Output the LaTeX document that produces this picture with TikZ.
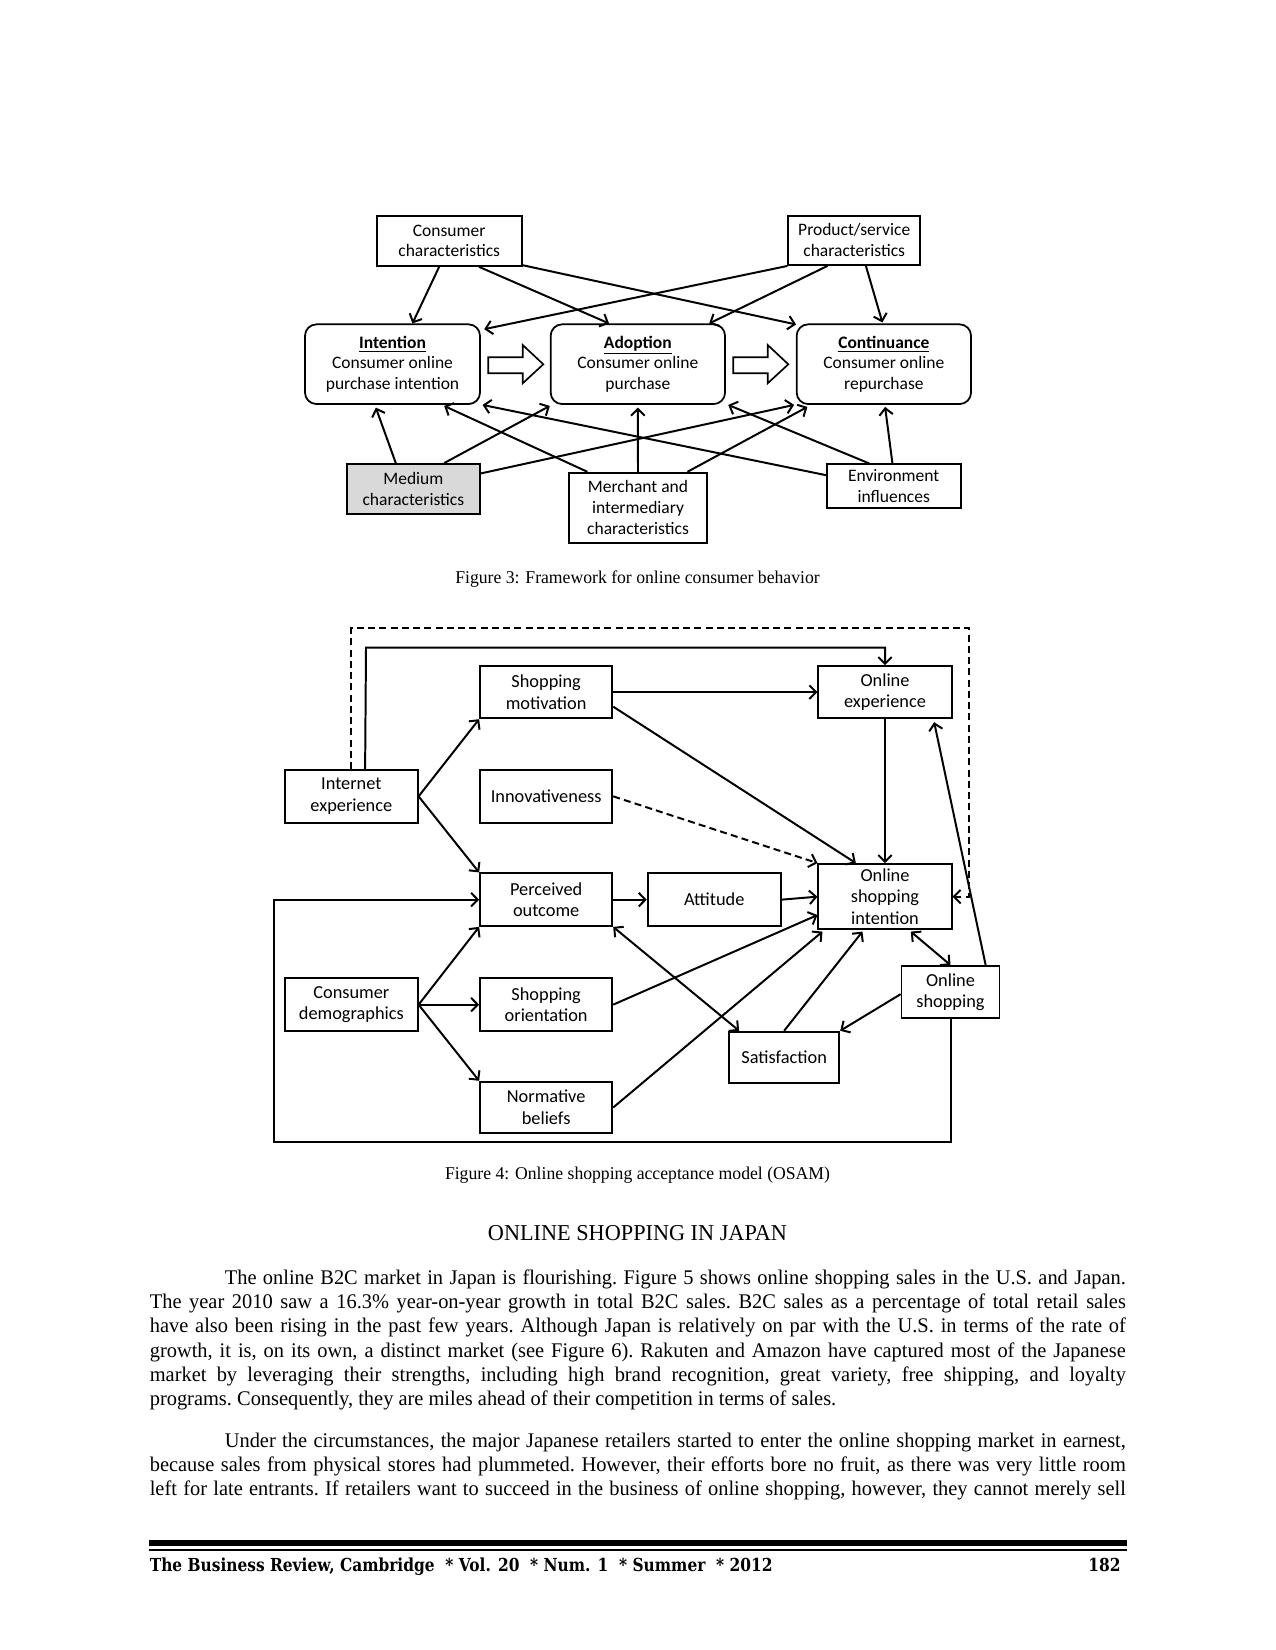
\documentclass[tikz,border=0pt]{standalone}
\usepackage{fontspec}
\setmainfont{Liberation Serif}
\newfontfamily\bodyfont{Liberation Serif}[FakeStretch=0.98]
\newfontfamily\calibri{Carlito}
\newfontfamily\footfont{DejaVu Serif}[FakeStretch=0.86]
\usetikzlibrary{arrows.meta,calc}
\newcommand\bodysetup{\bodyfont\fontsize{10}{11.6}\selectfont\frenchspacing\tolerance=9999\relax\hyphenpenalty=10000\relax\emergencystretch=10pt\relax}
\newcommand\footsetup{\footfont\bfseries\fontsize{8.6}{10}\selectfont}
\tikzset{
  box3/.style={draw, line width=0.85pt, font=\calibri\fontsize{8.4}{10}\selectfont, align=center, inner sep=0pt},
  rbox/.style={box3, rounded corners=5.5pt},
  box4/.style={draw, line width=0.85pt, font=\calibri\fontsize{8.8}{10.5}\selectfont, align=center, inner sep=0pt},
  arr/.style={line width=0.95pt, -{Straight Barb[length=3.2pt,width=6.5pt]}},
  darr/.style={line width=0.95pt, {Straight Barb[length=3.2pt,width=6.5pt]}-{Straight Barb[length=3.2pt,width=6.5pt]}},
  dsh/.style={dash pattern=on 3.4pt off 2pt},
  hollow/.style={draw, line width=0.8pt, fill=white},
  bodytext/.style={anchor=base west, text width=468.5pt, align=justify, inner sep=0pt, font=\bodysetup},
  captxt/.style={anchor=base, inner sep=0pt, font=\bodyfont\fontsize{8.65}{11}\selectfont},
}
\begin{document}
\begin{tikzpicture}[x=0.48pt,y=-0.48pt]
\useasboundingbox[fill=white] (0,0) rectangle (1275,1650);

% ---------------- Figure 3 ----------------
\node[box3, minimum width=69.6pt, minimum height=24.15pt] (cc) at (449.2,240.85) {Consumer\\characteristics};
\node[box3, minimum width=63.2pt, minimum height=23.7pt] (ps) at (854.2,240.35) {Product/service\\characteristics};
\node[rbox, minimum width=84pt, minimum height=38.25pt] (int) at (392.5,364.2) {\textbf{\underline{Intention}}\\Consumer online\\purchase intention};
\node[rbox, minimum width=83.7pt, minimum height=38.25pt] (ado) at (637.85,364.2) {\textbf{\underline{Adoption}}\\Consumer online\\purchase};
\node[rbox, minimum width=83.7pt, minimum height=38.25pt] (con) at (883.85,364.2) {\textbf{\underline{Continuance}}\\Consumer online\\repurchase};
\node[box3, fill=black!15, minimum width=64pt, minimum height=24.15pt] (med) at (413.35,489.15) {Medium\\characteristics};
\node[box3, minimum width=65.95pt, minimum height=33.6pt] (mer) at (638,507.7) {Merchant and\\intermediary\\characteristics};
\node[box3, minimum width=64.3pt, minimum height=21.1pt] (env) at (893.7,486.3) {Environment\\influences};

\draw[hollow] (488.3,357.3) -- (522.7,357.3) -- (522.7,345) -- (543.3,364.3) -- (522.7,383.3) -- (522.7,373.3) -- (488.3,373.3) -- cycle;
\draw[hollow] (733.3,357.3) -- (767.7,357.3) -- (767.7,345) -- (788.3,364.3) -- (767.7,383.3) -- (767.7,373.3) -- (733.3,373.3) -- cycle;

\draw[arr] ($(cc.south west)+(63.3,0)$) -- ($(int.north west)+(108.3,0)$);
\draw[arr] ($(cc.south west)+(103.3,0)$) -- ($(ado.north west)+(59.3,0)$);
\draw[arr] ($(cc.south east)+(0,-1.7)$) -- ($(con.north west)+(0.3,1)$);
\draw[arr] (ps.south west) -- ($(int.north east)+(3.3,5.7)$);
\draw[arr] ($(ps.south west)+(40,0)$) -- ($(ado.north east)+(-16.7,0)$);
\draw[arr] ($(ps.south west)+(78.4,0)$) -- ($(con.north west)+(86.6,-1)$);
\draw[arr] ($(med.north west)+(50,0)$) -- ($(int.south west)+(71.7,2.7)$);
\draw[arr] ($(med.north west)+(98.3,0)$) -- ($(ado.south west)+(0,1)$);
\draw[arr] ($(med.north east)+(0,10.3)$) -- ($(con.south west)+(-1.7,0)$);
\draw[arr] ($(mer.north west)+(19,0)$) -- ($(int.south west)+(140,1)$);
\draw[arr] (mer.north) -- ($(ado.south)+(0,2.7)$);
\draw[arr] ($(mer.north west)+(119,0)$) -- ($(con.south west)+(11.6,2)$);
\draw[arr] ($(env.north west)+(0,11.7)$) -- ($(int.south east)+(1.7,0)$);
\draw[arr] ($(env.north west)+(43.3,0)$) -- ($(ado.south east)+(2.3,0)$);
\draw[arr] ($(env.north west)+(66.6,0)$) -- ($(con.south west)+(89.3,2)$);

\node[captxt] (cap3) at (637.5,583.3) {Figure 3: Framework for online consumer behavior};

% ---------------- Figure 4 ----------------
\node[box4, minimum width=63.7pt, minimum height=25.3pt] (ie) at (351.35,796.35) {Internet\\experience};
\node[box4, minimum width=63.5pt, minimum height=25.1pt] (sm) at (546.15,692.15) {Shopping\\motivation};
\node[box4, minimum width=63.5pt, minimum height=25.3pt] (inn) at (546.15,796.35) {Innovativeness};
\node[box4, minimum width=64pt, minimum height=25.1pt] (oe) at (885,692.15) {Online\\experience};
\node[box4, minimum width=63.5pt, minimum height=25.3pt] (po) at (546.15,899.65) {Perceived\\outcome};
\node[box4, minimum width=63.85pt, minimum height=25.3pt] (att) at (714.2,899.65) {Attitude};
\node[box4, minimum width=64pt, minimum height=31.35pt] (osi) at (885,896.65) {Online\\shopping\\intention};
\node[box4, minimum width=63.7pt, minimum height=25.3pt] (cd) at (351.35,1004.65) {Consumer\\demographics};
\node[box4, minimum width=63.5pt, minimum height=25.3pt] (so) at (546.15,1004.65) {Shopping\\orientation};
\node[box4, minimum width=63.5pt, minimum height=24.8pt] (nb) at (546.15,1107.5) {Normative\\beliefs};
\node[box4, minimum width=52.95pt, minimum height=24.8pt] (sat) at (784.15,1057.5) {Satisfaction};
\node[box4, minimum width=47pt, minimum height=25.1pt] (os) at (950.5,992.15) {Online\\shopping};

\coordinate (dcorner) at (969.3,628.3);
\coordinate (scorner) at (366,647.7);
\coordinate (lb) at (274,1141.5);

\draw[arr,dsh] (ie.north) |- (dcorner) |- (osi.east);
\draw[arr] ($(ie.north west)+(81,0)$) -- (scorner) -| (oe.north);
\draw[arr] (ie.east) -- (sm.south west);
\draw[arr] (ie.east) -- (po.north west);
\draw[arr] (sm.east) -- (oe.west);
\draw[arr] ($(sm.east)+(0,14.5)$) -- ($(osi.north west)+(38.4,0)$);
\draw[arr,dsh] (inn.east) -- (osi.north west);
\draw[arr] (oe.south) -- (osi.north);
\draw[arr] ($(os.north west)+(85,0)$) -- ($(oe.south east)+(-18.4,3)$);
\draw[arr] (po.east) -- (att.west);
\draw[arr] (att.east) -- (osi.west);
\draw[arr] (cd.east) -- (po.south west);
\draw[arr] (cd.east) -- (so.west);
\draw[arr] (cd.east) -- (nb.north west);
\draw[arr] (so.east) -- ($(osi.west)+(0,18.4)$);
\draw[arr] (nb.east) -- ($(osi.south west)+(5,1.4)$);
\draw[darr] (po.south east) -- ($(sat.north west)+(11,0)$);
\draw[arr] ($(sat.north west)+(56,0)$) -- ($(osi.south west)+(45,1.4)$);
\draw[darr] ($(osi.south west)+(93.4,1.4)$) -- (os.north);
\draw[arr] ($(os.west)+(0,2)$) -- (sat.north east);
\draw[arr] (os.south) |- (lb) |- (po.west);

\node[captxt] (cap4) at (637.5,1179) {Figure 4: Online shopping acceptance model (OSAM)};

% ---------------- Text ----------------
\node[anchor=base, inner sep=0pt, font=\bodyfont\fontsize{10.9}{12}\selectfont] (head) at (637.5,1240) {ONLINE SHOPPING IN JAPAN};

\node[bodytext] (p1) at (149.4,1284.6) {\hspace*{36pt}The online B2C market in Japan is flourishing. Figure 5 shows online shopping sales in the U.S. and Japan.\linebreak
The year 2010 saw a 16.3\% year-on-year growth in total B2C sales. B2C sales as a percentage of total retail sales\linebreak
have also been rising in the past few years. Although Japan is relatively on par with the U.S. in terms of the rate of\linebreak
growth, it is, on its own, a distinct market (see Figure 6). Rakuten and Amazon have captured most of the Japanese\linebreak
market by leveraging their strengths, including high brand recognition, great variety, free shipping, and loyalty\linebreak
programs. Consequently, they are miles ahead of their competition in terms of sales.};

\node[bodytext] (p2) at (149.4,1447.6) {\hspace*{36pt}Under the circumstances, the major Japanese retailers started to enter the online shopping market in earnest,\linebreak
because sales from physical stores had plummeted. However, their efforts bore no fruit, as there was very little room\linebreak
left for late entrants. If retailers want to succeed in the business of online shopping, however, they cannot merely sell\linebreak};

% ---------------- Footer ----------------
\fill (149.4,1540) rectangle (1126.7,1546);
\fill (149.4,1549.2) rectangle (1126.7,1550.8);
\node[anchor=base west, inner sep=0pt, font=\footsetup] (foot) at (149.4,1571.5) {The Business Review, Cambridge \ * Vol. 20 \ * Num. 1 \ * Summer \ * 2012};
\node[anchor=base east, inner sep=0pt, font=\footsetup] (page) at (1121,1571.5) {182};
\end{tikzpicture}
\end{document}
